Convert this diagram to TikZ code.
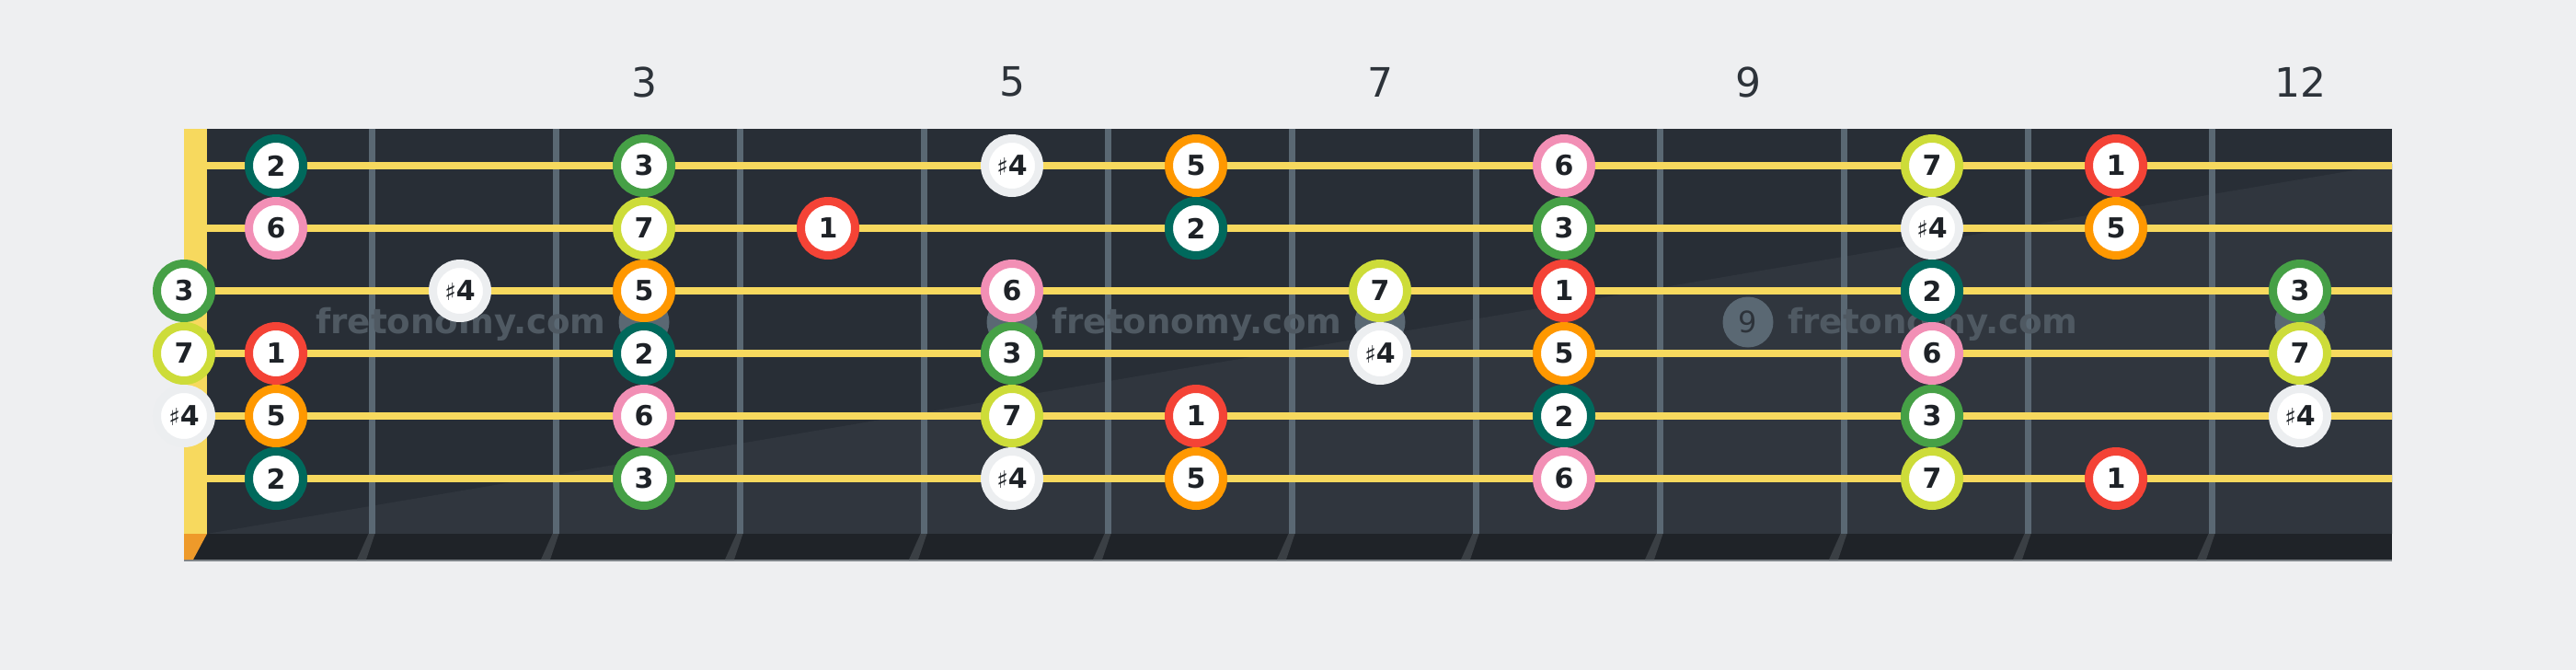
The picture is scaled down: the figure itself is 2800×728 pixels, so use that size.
\documentclass[tikz,border=0pt]{standalone}
\usepackage{fontspec}
\setmainfont{DejaVu Sans}
\definecolor{bgc}{HTML}{EEEFF1}
\definecolor{boardA}{HTML}{282E36}
\definecolor{boardB}{HTML}{30363E}
\definecolor{stripc}{HTML}{1F2328}
\definecolor{slantc}{HTML}{3A3F44}
\definecolor{fretc}{HTML}{5A6873}
\definecolor{stringc}{HTML}{F7D95E}
\definecolor{nutor}{HTML}{EE9A2A}
\definecolor{edgec}{HTML}{7D8388}
\definecolor{lblc}{HTML}{2D333A}
\definecolor{wmc}{HTML}{4F5962}
\definecolor{notetext}{HTML}{1E2227}
\definecolor{c1}{HTML}{F44336}
\definecolor{c2}{HTML}{00695C}
\definecolor{c3}{HTML}{46A046}
\definecolor{c4}{HTML}{ECEEF0}
\definecolor{c5}{HTML}{FF9800}
\definecolor{c6}{HTML}{F28FB5}
\definecolor{c7}{HTML}{CDDC39}
\newcommand\deglbl[1]{\ifnum#1=4 {\normalfont\fontsize{13}{13}\selectfont\char"266F}4\else#1\fi}
\begin{document}
\begin{tikzpicture}[x=0.5pt,y=-0.5pt,
  note/.style={circle, fill=white, line width=4.5pt, minimum size=29.5pt, inner sep=0pt,
    font=\bfseries\fontsize{15}{15}\selectfont, text=notetext},
  d1/.style={note, draw=c1}, d2/.style={note, draw=c2}, d3/.style={note, draw=c3},
  d4/.style={note, draw=c4}, d5/.style={note, draw=c5}, d6/.style={note, draw=c6},
  d7/.style={note, draw=c7},
  fretlbl/.style={font=\fontsize{22}{22}\selectfont, text=lblc, inner sep=0pt},
  inlay/.style={circle, fill=fretc, minimum size=27.5pt, inner sep=0pt,
    font=\fontsize{16}{16}\selectfont, text=lblc},
  wm/.style={font=\bfseries\fontsize{18.6}{18.6}\selectfont, text=wmc, inner sep=0pt, anchor=base west}]
\useasboundingbox (0,0) rectangle (2800,728);
\fill[bgc] (0,0) rectangle (2800,728);
% board
\fill[boardA] (225,140) rectangle (2600,580);
\fill[boardB] (225,580) -- (2600,178) -- (2600,580) -- cycle;
\fill[stripc] (200,580) rectangle (2600,608);
\fill[edgec] (200,608) rectangle (2600,610);
% frets
\foreach \fx in {404,604,...,2404} {
  \fill[fretc] (\fx-3.5,140) rectangle (\fx+3.5,580);
  \fill[slantc] (\fx-3.5,580) -- (\fx+3.5,580) -- (\fx-6,608) -- (\fx-16,608) -- cycle;
}
% nut
\fill[stringc] (200,140) rectangle (225,580);
\fill[nutor] (200,580) -- (225,580) -- (210,608) -- (200,608) -- cycle;
% strings
\foreach \sy in {180,248,316,384,452,520} {
  \fill[stringc] (225,\sy-4) rectangle (2600,\sy+4);
}
% inlays
\node[inlay] (m3) at (700,350) {};
\node[inlay] (m5) at (1100,350) {};
\node[inlay] (m7) at (1500,350) {};
\node[inlay] (m9) at (1900,350) {9};
\node[inlay] (m12) at (2500,350) {};
% watermarks
\node[wm] (w1) at (343,362) {fretonomy.com};
\node[wm] (w2) at (1143,362) {fretonomy.com};
\node[wm] (w3) at (1943,362) {fretonomy.com};
% fret numbers
\node[fretlbl] (f3) at (700,89) {3};
\node[fretlbl] (f5) at (1100,89) {5};
\node[fretlbl] (f7) at (1500,89) {7};
\node[fretlbl] (f9) at (1900,89) {9};
\node[fretlbl] (f12) at (2500,89) {12};
% notes
\foreach \nx/\ny/\nd in {
  300/180/2, 700/180/3, 1100/180/4, 1300/180/5, 1700/180/6, 2100/180/7, 2300/180/1,
  300/248/6, 700/248/7, 900/248/1, 1300/248/2, 1700/248/3, 2100/248/4, 2300/248/5,
  200/316/3, 500/316/4, 700/316/5, 1100/316/6, 1500/316/7, 1700/316/1, 2100/316/2, 2500/316/3,
  200/384/7, 300/384/1, 700/384/2, 1100/384/3, 1500/384/4, 1700/384/5, 2100/384/6, 2500/384/7,
  200/452/4, 300/452/5, 700/452/6, 1100/452/7, 1300/452/1, 1700/452/2, 2100/452/3, 2500/452/4,
  300/520/2, 700/520/3, 1100/520/4, 1300/520/5, 1700/520/6, 2100/520/7, 2300/520/1} {
  \node[d\nd] (n\nx-\ny) at (\nx,\ny) {\deglbl{\nd}};
}
\end{tikzpicture}
\end{document}
